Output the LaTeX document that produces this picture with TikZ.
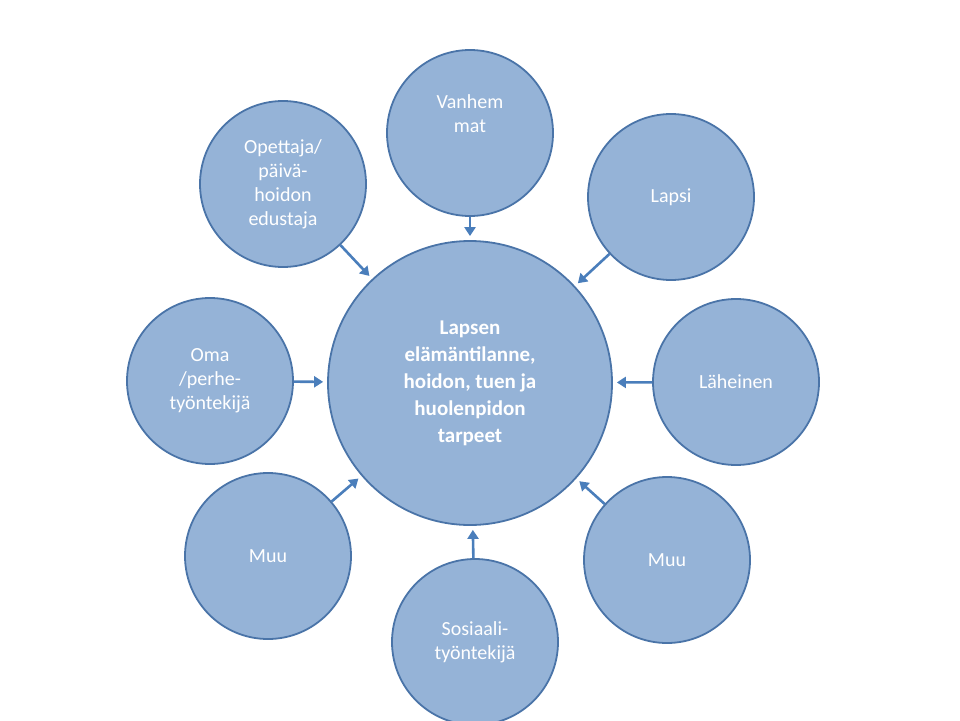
\documentclass[tikz,border=0pt]{standalone}
\usepackage{fontspec}
\setmainfont{Carlito}
\usetikzlibrary{arrows.meta}
\definecolor{cfill}{HTML}{95B3D7}
\definecolor{cline}{HTML}{4A74A8}
\definecolor{carrow}{HTML}{4A7EBB}
\begin{document}
\begin{tikzpicture}[x=1pt,y=-1pt,
  bub/.style={circle,draw=cline,line width=1.8pt,fill=cfill,text=white,minimum size=166pt,inner sep=0pt,align=center,font=\fontsize{20}{24}\selectfont},
  big/.style={bub,minimum size=284pt,font=\fontsize{21}{27}\selectfont\bfseries},
  arr/.style={draw=carrow,line width=2.6pt,-{Triangle[length=9pt,width=11pt]},shorten >=4pt}]
\useasboundingbox (0,0) rectangle (960,720);
\node[big] (c) at (470,383) {Lapsen\\elämäntilanne,\\hoidon, tuen ja\\huolenpidon\\tarpeet};
\node[bub] (v) at (470,133) {Vanhem\\mat\\[14pt]};
\node[bub] (l) at (671,197) {Lapsi};
\node[bub] (o) at (283,184) {Opettaja/\\päivä-\\hoidon\\edustaja};
\node[bub] (p) at (210,381) {Oma\\/perhe-\\työntekijä};
\node[bub] (h) at (736,382) {Läheinen};
\node[bub] (m1) at (268,556) {Muu};
\node[bub] (m2) at (667,560) {Muu};
\node[bub] (s) at (475,642) {Sosiaali-\\työntekijä};
\foreach \n in {v,l,o,p,h,m1,m2,s} \draw[arr] (\n) -- (c);
\end{tikzpicture}
\end{document}
